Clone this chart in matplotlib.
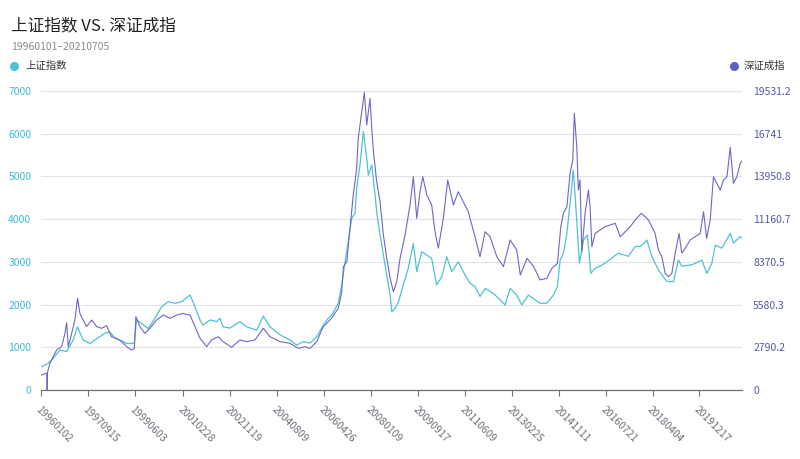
import matplotlib
matplotlib.use('Agg')
import matplotlib.pyplot as plt
from matplotlib.lines import Line2D
import pandas as pd

plt.rcParams['font.family'] = ['Noto Sans CJK SC', 'DejaVu Sans']

title = '上证指数 VS. 深证成指'
subtitle = '19960101–20210705'
series_names = ['上证指数', '深证成指']

x_tick_labels = ['19960102', '19970915', '19990603', '20010228', '20021119',
                 '20040809', '20060426', '20080109', '20090917', '20110609',
                 '20130225', '20141111', '20160721', '20180404', '20191217']
x_start = '1996-01-02'
x_end = '2021-07-05'

sh_dates = ['1996-01-10', '1996-04-07', '1996-06-12', '1996-09-10', '1996-12-08',
            '1997-03-04', '1997-04-29', '1997-07-15', '1997-10-13', '1998-01-11',
            '1998-04-30', '1998-07-05', '1998-09-11', '1998-11-16', '1999-02-14',
            '1999-04-20', '1999-05-26', '1999-06-25', '1999-08-30', '1999-11-27',
            '2000-02-25', '2000-05-23', '2000-08-19', '2000-11-17', '2001-02-15',
            '2001-06-04', '2001-08-09', '2001-10-15', '2001-11-24', '2002-02-26',
            '2002-05-24', '2002-07-07', '2002-08-16', '2002-11-18', '2003-03-29',
            '2003-06-27', '2003-11-08', '2004-02-04', '2004-05-02', '2004-09-13',
            '2005-01-24', '2005-04-22', '2005-07-18', '2005-10-16', '2006-01-14',
            '2006-04-10', '2006-06-16', '2006-07-31', '2006-10-27', '2006-12-12',
            '2007-01-25', '2007-03-08', '2007-04-23', '2007-06-06', '2007-06-28',
            '2007-08-11', '2007-09-25', '2007-11-09', '2007-11-30', '2008-01-15',
            '2008-02-28', '2008-03-20', '2008-05-04', '2008-06-17', '2008-08-01',
            '2008-09-15', '2008-10-07', '2008-11-20', '2009-01-03', '2009-03-09',
            '2009-05-14', '2009-07-20', '2009-09-04', '2009-11-10', '2010-01-15',
            '2010-03-21', '2010-05-26', '2010-08-02', '2010-10-07', '2010-12-13',
            '2011-03-09', '2011-06-07', '2011-08-13', '2011-10-18', '2011-12-24',
            '2012-02-29', '2012-06-18', '2012-09-16', '2012-11-21', '2013-01-27',
            '2013-04-25', '2013-06-30', '2013-09-27', '2013-12-25', '2014-02-28',
            '2014-05-28', '2014-08-24', '2014-10-17', '2014-11-22', '2015-01-05',
            '2015-02-20', '2015-04-03', '2015-05-16', '2015-06-22', '2015-08-05',
            '2015-09-28', '2015-11-20', '2016-01-04', '2016-03-01', '2016-05-06',
            '2016-08-04', '2016-10-31', '2017-01-02', '2017-05-17', '2017-08-15',
            '2017-10-21', '2018-01-18', '2018-03-24', '2018-06-20', '2018-10-10',
            '2019-01-07', '2019-03-12', '2019-04-27', '2019-09-08', '2020-01-19',
            '2020-03-25', '2020-05-30', '2020-07-13', '2020-10-11', '2021-01-30',
            '2021-03-13', '2021-06-11', '2021-07-05']
sh_values = [545, 625, 740, 936, 900,
             1170, 1480, 1170, 1090, 1200,
             1330, 1360, 1210, 1170, 1090,
             1090, 1100, 1640, 1560, 1440,
             1680, 1950, 2070, 2030, 2070,
             2224, 1950, 1640, 1520, 1640,
             1600, 1680, 1480, 1450, 1600,
             1480, 1400, 1730, 1480, 1290,
             1170, 1050, 1130, 1100, 1250,
             1520, 1680, 1750, 2030, 2460,
             3000, 3470, 4020, 4140, 4720,
             5270, 6050, 5420, 5030, 5270,
             4560, 4170, 3630, 3160, 2690,
             2220, 1830, 1910, 2060, 2460,
             2850, 3430, 2770, 3240, 3160,
             3080, 2460, 2650, 3120, 2770,
             3000, 2690, 2500, 2420, 2190,
             2380, 2260, 2110, 1990, 2380,
             2220, 1990, 2220, 2110, 2030,
             2030, 2220, 2420, 3040, 3200,
             3670, 4370, 5150, 4210, 2970,
             3510, 3630, 2730, 2850, 2900,
             3000, 3120, 3200, 3130, 3360,
             3360, 3510, 3130, 2810, 2540,
             2540, 3040, 2900, 2930, 3040,
             2730, 2960, 3390, 3320, 3670,
             3440, 3590, 3560]

sz_dates = ['1996-01-10', '1996-03-16', '1996-03-20', '1996-03-24', '1996-03-28',
            '1996-04-29', '1996-07-27', '1996-10-02', '1996-11-15', '1996-12-08',
            '1996-12-29', '1997-02-13', '1997-03-27', '1997-05-02', '1997-06-02',
            '1997-07-15', '1997-08-30', '1997-11-05', '1998-01-11', '1998-03-16',
            '1998-05-22', '1998-07-27', '1998-10-03', '1998-12-08', '1999-02-14',
            '1999-04-20', '1999-05-26', '1999-06-16', '1999-08-08', '1999-10-14',
            '1999-12-19', '2000-03-17', '2000-06-14', '2000-09-11', '2000-12-09',
            '2001-03-06', '2001-03-28', '2001-06-04', '2001-08-09', '2001-10-15',
            '2002-01-12', '2002-03-18', '2002-06-14', '2002-08-16', '2002-12-10',
            '2003-03-29', '2003-06-27', '2003-10-15', '2004-02-04', '2004-05-02',
            '2004-09-13', '2005-01-24', '2005-05-13', '2005-08-10', '2005-10-16',
            '2006-01-14', '2006-04-10', '2006-06-16', '2006-07-31', '2006-10-27',
            '2006-12-12', '2007-01-03', '2007-02-17', '2007-03-31', '2007-05-14',
            '2007-06-28', '2007-07-19', '2007-09-04', '2007-10-08', '2007-11-09',
            '2007-12-22', '2008-01-15', '2008-02-06', '2008-03-20', '2008-05-04',
            '2008-06-17', '2008-08-01', '2008-09-15', '2008-10-28', '2008-12-12',
            '2009-01-25', '2009-04-01', '2009-06-06', '2009-07-20', '2009-09-04',
            '2009-10-17', '2009-11-23', '2010-01-15', '2010-03-21', '2010-05-04',
            '2010-06-17', '2010-08-23', '2010-10-20', '2011-01-04', '2011-03-09',
            '2011-05-15', '2011-07-21', '2011-08-13', '2011-10-18', '2011-12-24',
            '2012-02-29', '2012-05-05', '2012-08-03', '2012-10-29', '2013-01-27',
            '2013-04-25', '2013-06-11', '2013-09-08', '2013-12-05', '2014-02-28',
            '2014-05-28', '2014-08-04', '2014-10-17', '2014-12-01', '2015-01-05',
            '2015-02-20', '2015-04-03', '2015-05-09', '2015-05-30', '2015-07-01',
            '2015-07-22', '2015-08-14', '2015-09-06', '2015-10-20', '2015-12-03',
            '2015-12-25', '2016-01-18', '2016-03-01', '2016-05-06', '2016-07-12',
            '2016-09-17', '2016-11-23', '2017-01-29', '2017-04-04', '2017-06-10',
            '2017-08-15', '2017-11-04', '2017-12-26', '2018-02-09', '2018-03-24',
            '2018-05-07', '2018-06-20', '2018-08-05', '2018-09-18', '2018-11-01',
            '2018-12-16', '2019-01-29', '2019-03-22', '2019-04-27', '2019-06-10',
            '2019-08-16', '2019-10-21', '2019-12-27', '2020-02-10', '2020-03-22',
            '2020-05-08', '2020-06-21', '2020-08-05', '2020-09-19', '2020-11-02',
            '2020-12-17', '2021-01-30', '2021-03-13', '2021-04-28', '2021-06-11',
            '2021-07-05']
sz_values = [980, 1090, 1100, 0, 1150,
             1740, 2610, 2830, 3700, 4400,
             2830, 3700, 4570, 5990, 5010,
             4570, 4140, 4570, 4140, 4030,
             4200, 3480, 3370, 3160, 2830,
             2610, 2700, 4790, 4140, 3700,
             4030, 4570, 4900, 4680, 4900,
             5010, 4960, 4900, 4140, 3380,
             2830, 3270, 3480, 3160, 2790,
             3270, 3160, 3270, 4030, 3480,
             3160, 3050, 2720, 2830, 2720,
             3160, 4140, 4460, 4700, 5340,
             6420, 8060, 8380, 10560, 12740,
             14480, 16440, 18180, 19440, 17310,
             19050, 17090, 15570, 13610, 12300,
             10120, 8600, 7310, 6420, 7080,
             8600, 10120, 12080, 13930, 11210,
             12950, 13930, 12740, 12080, 10340,
             9260, 11210, 13720, 12080, 12950,
             12300, 11650, 11200, 10010, 8710,
             10340, 10010, 8710, 8060, 9800,
             9140, 7510, 8600, 8060, 7190,
             7290, 7940, 8270, 10670, 11540,
             11970, 14160, 15020, 18070, 15890,
             13060, 13720, 9000, 11540, 13060,
             11970, 9360, 10230, 10450, 10670,
             10780, 10890, 10010, 10340, 10670,
             11100, 11540, 11320, 11100, 10670,
             10230, 9140, 8710, 7620, 7400,
             7620, 8930, 10230, 8930, 9250,
             9800, 10010, 10230, 11650, 9900,
             11100, 13930, 13500, 13060, 13720,
             13930, 15850, 13500, 13930, 14810,
             14950]

left_ticks = [0, 1000, 2000, 3000, 4000, 5000, 6000, 7000]
right_ticks = [0, 2790.2, 5580.3, 8370.5, 11160.7, 13950.8, 16741, 19531.2]
right_tick_labels = ['0', '2790.2', '5580.3', '8370.5', '11160.7', '13950.8', '16741', '19531.2']

sh_color = '#4cc2d6'
sz_color = '#6c68c4'
sz_legend_color = '#5b63be'
axis_grey = '#6e7079'

W, H = 800, 459
fig = plt.figure(figsize=(W / 100, H / 100), dpi=100)
ax = fig.add_axes([41 / W, 1 - 390 / H, 701 / W, 299 / H])
ax2 = ax.twinx()

sh_x = pd.to_datetime(sh_dates)
sz_x = pd.to_datetime(sz_dates)
ax.plot(sh_x, sh_values, color=sh_color, lw=0.9, zorder=3)
ax2.plot(sz_x, sz_values, color=sz_color, lw=0.8, zorder=3)

ax.set_xlim(pd.Timestamp(x_start), pd.Timestamp(x_end))
ax.set_ylim(0, 7000)
ax2.set_ylim(0, 19531.2)

ax.set_yticks(left_ticks)
ax.set_yticklabels([str(t) for t in left_ticks])
ax2.set_yticks(right_ticks)
ax2.set_yticklabels(right_tick_labels)

ax.tick_params(axis='y', length=0, pad=7, labelsize=7.5, labelcolor='#3dbbd3')
ax2.tick_params(axis='y', length=0, pad=8, labelsize=7.5, labelcolor='#5557b0')

xt = pd.to_datetime(x_tick_labels, format='%Y%m%d')
ax.set_xticks(xt)
ax.set_xticklabels(x_tick_labels, rotation=-45, ha='left', va='top',
                   rotation_mode='anchor')
ax.tick_params(axis='x', length=4, width=0.8, color=axis_grey, pad=6,
               labelsize=7.5, labelcolor=axis_grey)

ax.grid(axis='y', color='#e0e3ea', lw=0.8)
ax.set_axisbelow(True)
for a in (ax, ax2):
    for s in ('left', 'right', 'top'):
        a.spines[s].set_visible(False)
    a.spines['bottom'].set_color(axis_grey)
    a.spines['bottom'].set_linewidth(0.9)
ax2.spines['bottom'].set_visible(False)

fig.text(11 / W, 1 - 26 / H, title, fontsize=12, color='#222222',
         ha='left', va='center')
fig.text(11 / W, 1 - 47 / H, subtitle, fontsize=7.5, color='#8a8a8a',
         ha='left', va='center')

fig.add_artist(Line2D([13.5 / W], [1 - 66 / H], marker='o', ms=5.5, color=sh_color,
                      transform=fig.transFigure, ls='none'))
fig.text(25 / W, 1 - 66 / H, series_names[0], fontsize=7.5, color='#333333',
         ha='left', va='center')
fig.add_artist(Line2D([733.5 / W], [1 - 66 / H], marker='o', ms=5.5, color=sz_legend_color,
                      transform=fig.transFigure, ls='none'))
fig.text(744 / W, 1 - 66 / H, series_names[1], fontsize=7.5, color='#333333',
         ha='left', va='center')

fig.savefig('out.png', dpi=100, facecolor='white')
